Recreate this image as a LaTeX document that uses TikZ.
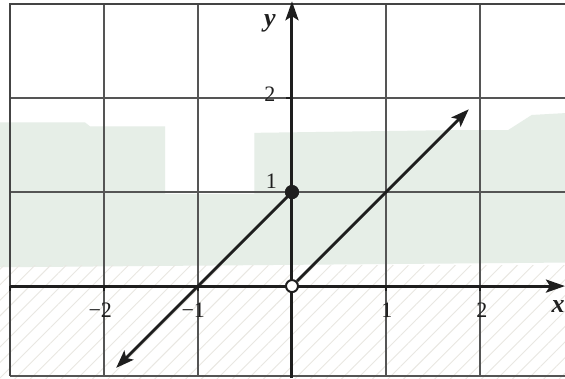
\documentclass[tikz,border=0pt]{standalone}
\usepackage{fontspec}
\setmainfont{Liberation Serif}
\usetikzlibrary{arrows.meta,patterns.meta}
\definecolor{gridc}{RGB}{85,85,85}
\definecolor{axisc}{RGB}{30,30,30}
\definecolor{bush}{RGB}{230,238,231}
\definecolor{hatchc}{RGB}{233,231,226}
\tikzset{
  gridline/.style={draw=gridc, line width=1.2pt},
  frameline/.style={draw=gridc!80!black, line width=2pt},
  axisline/.style={draw=axisc, line width=3pt, -{Stealth[length=19pt,width=13pt,inset=4pt]}},
  graphline/.style={draw=axisc, line width=2.8pt},
  tipped/.style={-{Stealth[length=18pt,width=13pt,inset=4pt]}},
  ticklab/.style={font=\fontsize{22}{24}\selectfont, text=axisc, inner sep=0pt},
  axislab/.style={font=\fontsize{26}{28}\selectfont\bfseries\itshape, text=axisc, inner sep=0pt},
  fulldot/.style={circle, fill=axisc, minimum size=14pt, inner sep=0pt},
  emptydot/.style={circle, draw=axisc, fill=white, line width=2pt, minimum size=12pt, inner sep=0pt},
}
\begin{document}
\begin{tikzpicture}[x=94pt,y=94pt]
\useasboundingbox (-3.106,-0.979) rectangle (2.904,3.043);
% faint background (photo)
\fill[white] (-3.106,-0.979) rectangle (2.904,3.043);
\fill[bush] (-3.106,0.20) -- (-3.106,1.74) -- (-2.2,1.74) -- (-2.15,1.70) -- (-1.35,1.70)
  -- (-1.35,0.98) -- (-0.40,0.98) -- (-0.40,1.63) -- (1.80,1.66) -- (2.3,1.66) -- (2.55,1.82)
  -- (2.904,1.84) -- (2.904,0.25) -- cycle;
\fill[pattern={Lines[angle=45,distance=11pt,line width=0.9pt]}, pattern color=hatchc]
  (-3.106,-0.979) rectangle (2.904,0.22);
% grid
\foreach \gx in {-2,-1,1,2} \draw[gridline] (\gx,-0.957) -- (\gx,3);
\foreach \gy in {1,2} \draw[gridline] (-3,\gy) -- (2.904,\gy);
\draw[gridline] (-3,-0.957) -- (2.904,-0.957);
\draw[frameline] (-3,-0.957) -- (-3,3) -- (2.904,3);
% ticks
\foreach \tx in {-3,-2,-1,1,2} \draw[axisc, line width=2pt] (\tx,0) -- (\tx,-0.05);
\draw[axisc, line width=2pt] (0,2) -- (-0.06,2);
% axes
\coordinate (xstart) at (-3,0);
\coordinate (xend) at (2.904,0);
\coordinate (ystart) at (0,-0.979);
\coordinate (yend) at (0,3.03);
\draw[axisline] (xstart) -- (xend);
\draw[axisline] (ystart) -- (yend);
% labels
\node[ticklab] (lm2) at (-2.04,-0.255) {−2};
\node[ticklab] (lm1) at (-1.05,-0.255) {−1};
\node[ticklab] (l1) at (1.01,-0.255) {1};
\node[ticklab] (l2) at (2.02,-0.255) {2};
\node[ticklab] (ly2) at (-0.235,2.04) {2};
\node[ticklab] (ly1) at (-0.22,1.11) {1};
\node[axislab] (lx) at (2.83,-0.22) {x};
\node[axislab] (ly) at (-0.235,2.80) {y};
% graph
\node[fulldot] (P) at (0,1) {};
\node[emptydot] (Q) at (0,0) {};
\coordinate (tipA) at (-1.87,-0.87);
\coordinate (tipB) at (1.88,1.88);
\draw[graphline, tipped] (P.center) -- (tipA);
\draw[graphline, tipped] (Q) -- (tipB);
\node[fulldot] at (P) {};
\end{tikzpicture}
\end{document}
